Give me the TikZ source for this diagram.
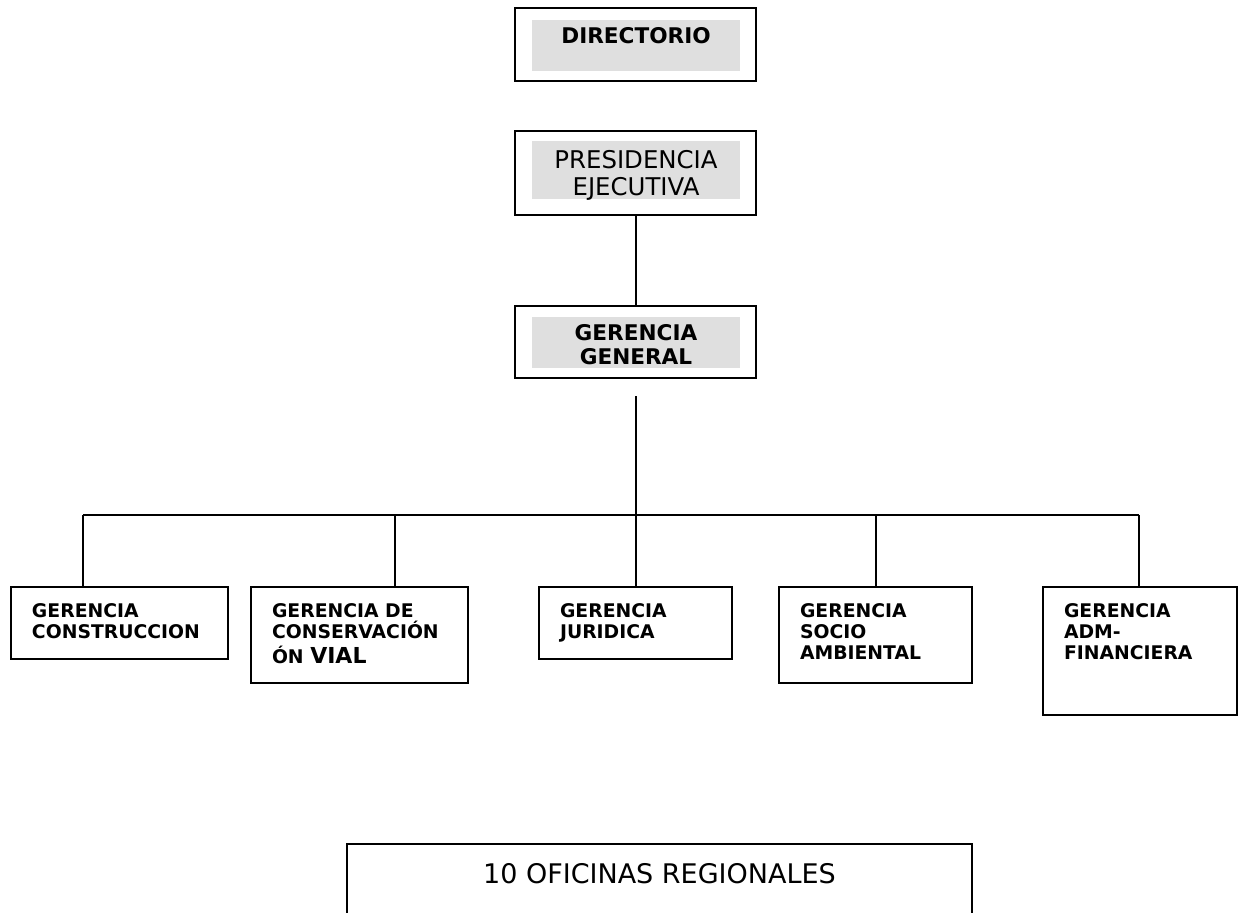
\documentclass[tikz,border=0pt]{standalone}
\usepackage{fontspec}
\setmainfont{DejaVu Sans}
\definecolor{gris}{RGB}{223,223,223}
\newcommand{\texto}[3]{\parbox[t][#2][t]{#1}{#3}}
\newcommand{\textoc}[3]{\parbox[t][#2][t]{#1}{\centering #3}}

\begin{document}
\begin{tikzpicture}[x=0.5pt, y=-0.5pt,
		marco/.style={draw, line width=1pt, anchor=north west, inner sep=0pt, outer sep=0pt, minimum width=120.5pt},
		rotulo/.style={fill=gris, anchor=north west, inner xsep=0pt, outer sep=0pt},
		gerencia/.style={draw, line width=1pt, anchor=north west, inner xsep=10.5pt, inner ysep=8.5pt, outer sep=0pt, font=\bfseries\fontsize{9.4}{10.5}\selectfont},
		linea/.style={line width=1pt}]
		\useasboundingbox (0,0) rectangle (1242,912);
		\node[marco, minimum height=36.5pt] (dirmarco) at (515,8) {};
		\node[rotulo, inner ysep=3.5pt, font=\bfseries\fontsize{10.8}{12}\selectfont] (dir) at (532,20) {\textoc{104pt}{18.5pt}{DIRECTORIO}};
		\node[marco, minimum height=42pt] (presmarco) at (515,131) {};
		\node[rotulo, inner ysep=4.5pt, font=\fontsize{12.2}{13.5}\selectfont] (pres) at (532,141) {\textoc{104pt}{20pt}{PRESIDENCIA\\EJECUTIVA}};
		\node[marco, minimum height=36pt] (ggmarco) at (515,306) {};
		\node[rotulo, inner ysep=3.5pt, font=\bfseries\fontsize{10.8}{12}\selectfont] (gg) at (532,317) {\textoc{104pt}{18.5pt}{GERENCIA\\GENERAL}};
		\node[gerencia] (cons) at (11,587) {\texto{87.5pt}{19pt}{GERENCIA\\CONSTRUCCION}};
		\node[gerencia] (conserv) at (251,587) {\texto{87.5pt}{31pt}{GERENCIA DE\\CONSERVACIÓN\\[2pt]ÓN {\fontsize{11}{12}\selectfont VIAL}}};
		\node[gerencia] (jur) at (539,587) {\texto{75.5pt}{19pt}{GERENCIA\\JURIDICA}};
		\node[gerencia] (socio) at (779,587) {\texto{75.5pt}{31pt}{GERENCIA\\SOCIO\\AMBIENTAL}};
		\node[gerencia] (adm) at (1043,587) {\texto{76pt}{47pt}{GERENCIA\\ADM-\\FINANCIERA}};
		\node[draw, line width=1pt, anchor=north west, inner xsep=0pt, inner ysep=9.5pt, outer sep=0pt, font=\fontsize{13.5}{15}\selectfont] (ofi) at (347,844) {\textoc{312.5pt}{24pt}{10 OFICINAS REGIONALES}};
		\draw[linea] (presmarco.south) -- (ggmarco.north);
		\coordinate (tronco) at (636,396);
		\coordinate (b1) at (83,515);
		\coordinate (b2) at (395,515);
		\coordinate (b3) at (636,515);
		\coordinate (b4) at (876,515);
		\coordinate (b5) at (1139,515);
		\draw[linea] (tronco) -- (b3);
		\draw[linea] (b1) -- (b5);
		\foreach \b/\g in {b1/cons, b2/conserv, b3/jur, b4/socio, b5/adm}
			\draw[linea] (\b) -- (\b |- \g.north);
	\end{tikzpicture}
\end{document}
